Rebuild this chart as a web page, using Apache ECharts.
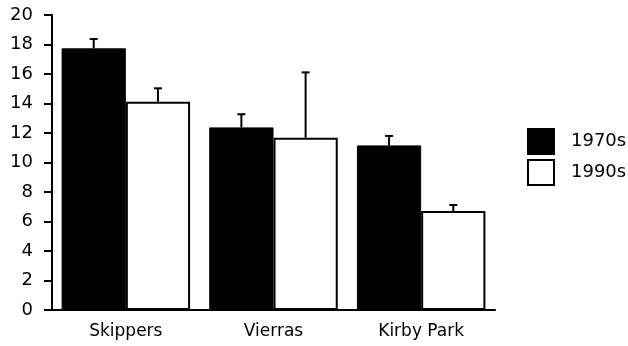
<!DOCTYPE html>
<html>
<head>
<meta charset="utf-8">
<script src="https://cdn.jsdelivr.net/npm/echarts@6/dist/echarts.min.js"></script>
<style>
html,body{margin:0;padding:0;background:#fff;}
#chart{width:628px;height:346px;}
</style>
</head>
<body>
<div id="chart"></div>
<script>
var categories = ['Skippers', 'Vierras', 'Kirby Park'];
var seriesNames = ['1970s', '1990s'];
var values1970 = [17.74, 12.38, 11.16];
var values1990 = [14.12, 11.68, 6.71];
var err1970 = [0.63, 0.89, 0.64];
var err1990 = [0.91, 4.43, 0.41];
var yTicks = [0, 2, 4, 6, 8, 10, 12, 14, 16, 18, 20];

var FONT = 'DejaVu Sans';
var catGap = 0.13;

function errSeries(vals, errs, side) {
  var data = vals.map(function (v, i) { return [i, v, v + errs[i]]; });
  return {
    type: 'custom',
    silent: true,
    z: 5,
    data: data,
    encode: { x: 0, y: [1, 2] },
    renderItem: function (params, api) {
      var catW = api.size([1, 0])[0];
      var bw = catW * (1 - catGap) / 2;
      var base = api.coord([api.value(0), api.value(1)]);
      var top = api.coord([api.value(0), api.value(2)]);
      var x = base[0] + side * bw / 2;
      var cap = 4;
      return {
        type: 'group',
        children: [
          { type: 'line', shape: { x1: x, y1: base[1], x2: x, y2: top[1] }, style: { stroke: '#000', lineWidth: 2 } },
          { type: 'line', shape: { x1: x - cap, y1: top[1], x2: x + cap, y2: top[1] }, style: { stroke: '#000', lineWidth: 2 } }
        ]
      };
    }
  };
}

var chart = echarts.init(document.getElementById('chart'), null, { renderer: 'canvas' });
chart.setOption({
  animation: false,
  backgroundColor: '#fff',
  grid: { left: 52, right: 133, top: 15, bottom: 36, containLabel: false },
  legend: {
    data: seriesNames.map(function (n) { return { name: n, icon: 'rect' }; }),
    orient: 'vertical',
    left: 522,
    top: 123,
    itemWidth: 26,
    itemHeight: 25,
    itemGap: 4,
    textStyle: { fontFamily: FONT, fontSize: 18, color: '#000', padding: [0, 0, 0, 12] },
    selectedMode: false
  },
  xAxis: {
    type: 'category',
    data: categories,
    axisLine: { lineStyle: { color: '#000', width: 2 } },
    axisTick: { show: false },
    axisLabel: { fontFamily: FONT, fontSize: 17, color: '#000', margin: 13 }
  },
  yAxis: {
    type: 'value',
    min: 0,
    max: 20,
    interval: 2,
    axisLine: { show: true, lineStyle: { color: '#000', width: 2 } },
    axisTick: { show: true, length: 8, lineStyle: { color: '#000', width: 2 } },
    splitLine: { show: false },
    axisLabel: {
      fontFamily: FONT, fontSize: 18, color: '#000', margin: 19,
      formatter: function (v) { return yTicks.indexOf(v) >= 0 ? String(v) : ''; }
    }
  },
  series: [
    {
      name: seriesNames[0], type: 'bar', data: values1970,
      barGap: '0%', barCategoryGap: (catGap * 100) + '%',
      itemStyle: { color: '#000', borderColor: '#000', borderWidth: 1 }
    },
    {
      name: seriesNames[1], type: 'bar', data: values1990,
      barGap: '0%', barCategoryGap: (catGap * 100) + '%',
      itemStyle: { color: '#fff', borderColor: '#000', borderWidth: 2 }
    },
    errSeries(values1970, err1970, -1),
    errSeries(values1990, err1990, 1)
  ]
});
</script>
</body>
</html>
